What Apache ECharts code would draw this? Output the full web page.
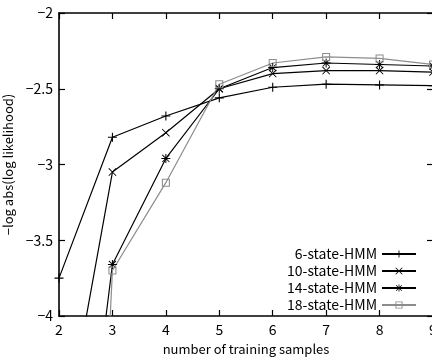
<!DOCTYPE html>
<html><head><meta charset="utf-8">
<script src="https://cdn.jsdelivr.net/npm/echarts@6/dist/echarts.min.js"></script>
<style>html,body{margin:0;padding:0;background:#fff}#c{width:432px;height:362px}</style>
</head><body><div id="c"></div>
<script>
const samples = [2, 3, 4, 5, 6, 7, 8, 9];
const hmm6  = [-3.75, -2.82, -2.68, -2.56, -2.49, -2.47, -2.475, -2.48];
const hmm10 = [-5.0, -3.05, -2.79, -2.50, -2.40, -2.38, -2.38, -2.39];
const hmm14 = [-6.5, -3.66, -2.96, -2.50, -2.36, -2.33, -2.34, -2.35];
const hmm18 = [-11.0, -3.70, -3.12, -2.47, -2.33, -2.29, -2.30, -2.34];
const seriesNames = ['6-state-HMM', '10-state-HMM', '14-state-HMM', '18-state-HMM'];
const yTicks = [-4, -3.5, -3, -2.5, -2];

const FONT = 'Noto Sans CJK JP';
const PLUS = 'path://M0,4.4H10V5.6H0Z M4.4,0H5.6V10H4.4Z';
const CROSS = 'path://M0,0.8 L0.8,0 L10,9.2 L9.2,10Z M9.2,0 L10,0.8 L0.8,10 L0,9.2Z';
const STAR = 'path://M0,4.45H10V5.55H0Z M4.45,0H5.55V10H4.45Z M0.7,1.4 L1.4,0.7 L9.3,8.6 L8.6,9.3Z M8.6,0.7 L9.3,1.4 L1.4,9.3 L0.7,8.6Z';
const OSQUARE = 'path://M0,0 L10,0 L10,10 L0,10Z M1.3,1.3 L1.3,8.7 L8.7,8.7 L8.7,1.3Z';

function pairs(vals){ return samples.map((x,i)=>[x, vals[i]]); }
function mk(name, vals, color, symbol, size){
  return {
    name, type:'line', data: pairs(vals), clip:true,
    symbol, symbolSize:size, showSymbol:true,
    lineStyle:{color, width:1.2},
    itemStyle:{color, borderWidth:0},
    emphasis:{disabled:true}, animation:false
  };
}
const fmt = v => (v<0 ? '\u2212' : '') + Math.abs(v);
const axisCommon = {
  axisLine:{show:true, onZero:false, lineStyle:{color:'#000', width:1.6}},
  axisTick:{show:true, inside:true, length:6, lineStyle:{color:'#000', width:1.2}},
  splitLine:{show:false}
};
const chart = echarts.init(document.getElementById('c'), null, {renderer:'canvas'});
chart.setOption({
  animation:false,
  backgroundColor:'#fff',
  grid:{left:59, right:-1, top:13, bottom:46, containLabel:false, outerBoundsMode:'none'},
  legend:{
    data: seriesNames, orient:'vertical', align:'right', right:10, bottom:45,
    itemWidth:34, itemHeight:9, itemGap:3,
    textStyle:{fontFamily:FONT, fontSize:14, color:'#000'},
    selectedMode:false
  },
  xAxis:[
    Object.assign({type:'value', position:'bottom', min:2, max:9, interval:1,
      name:'number of training samples', nameLocation:'middle', nameGap:27,
      nameTextStyle:{fontFamily:FONT, fontSize:13, color:'#000'},
      axisLabel:{fontFamily:FONT, fontSize:14, color:'#000', margin:7}}, axisCommon),
    Object.assign({type:'value', position:'top', min:2, max:9, interval:1,
      axisLabel:{show:false}}, axisCommon)
  ],
  yAxis:[
    Object.assign({type:'value', position:'left', min:-4, max:-2, interval:0.5,
      name:'\u2212log abs(log likelihood)', nameLocation:'middle', nameGap:40,
      nameTextStyle:{fontFamily:FONT, fontSize:13, color:'#000'},
      axisLabel:{fontFamily:FONT, fontSize:14, color:'#000', margin:6, formatter: v => yTicks.includes(v) ? fmt(v) : ''}}, axisCommon),
    Object.assign({type:'value', position:'right', min:-4, max:-2, interval:0.5,
      axisLabel:{show:false}}, axisCommon)
  ],
  series:[
    mk(seriesNames[0], hmm6, '#000', PLUS, 9),
    mk(seriesNames[1], hmm10, '#000', CROSS, 8),
    mk(seriesNames[2], hmm14, '#000', STAR, 9),
    mk(seriesNames[3], hmm18, '#8c8c8c', OSQUARE, 8)
  ]
});
</script></body></html>
